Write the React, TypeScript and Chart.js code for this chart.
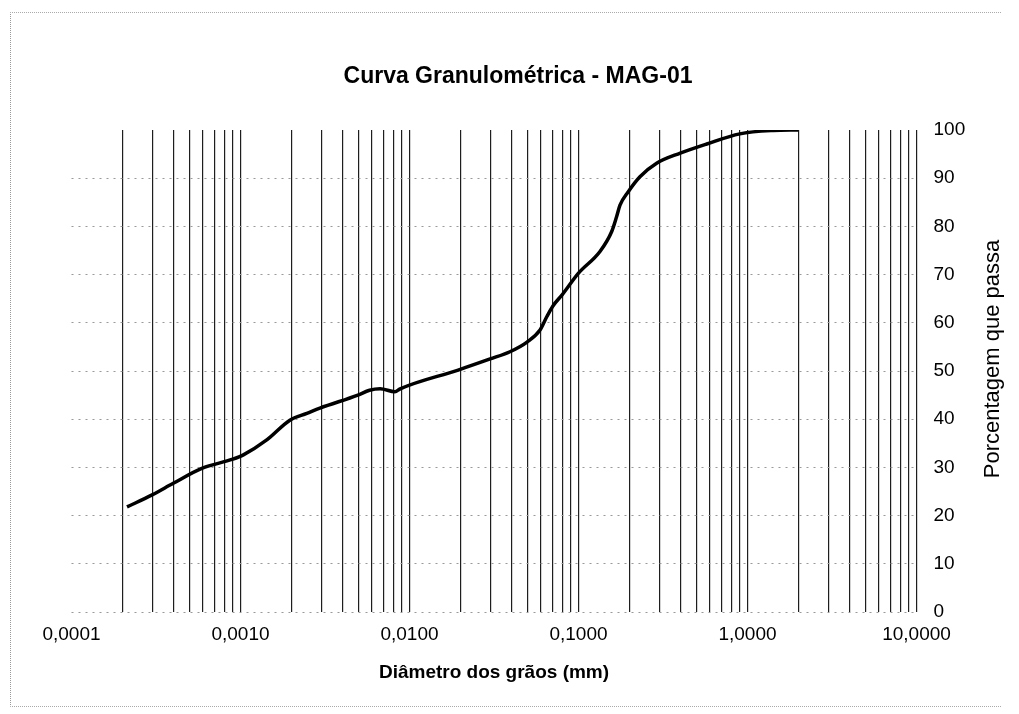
import { useEffect, useRef } from 'react';
import { Chart, registerables } from 'chart.js';

Chart.register(...registerables);

const chartTitle = 'Curva Granulométrica - MAG-01';
const xAxisTitle = 'Diâmetro dos grãos (mm)';
const yAxisTitle = 'Porcentagem que passa';

// Grain diameter (mm) and percentage passing
const grainDiameterMm = [
  0.000213, 0.0003, 0.0004, 0.00059, 0.0009, 0.00104, 0.00143, 0.00196, 0.00247, 0.00295,
  0.00495, 0.0058, 0.0067, 0.0082, 0.0088, 0.0194, 0.03, 0.0393, 0.0496, 0.0592,
  0.065, 0.0706, 0.08, 0.1, 0.134, 0.157, 0.168, 0.176, 0.197, 0.231,
  0.29, 0.4, 0.574, 0.9, 1.42, 2.0,
];
const percentPassing = [
  21.8, 24.3, 26.7, 29.8, 31.7, 32.6, 35.7, 39.8, 41.2, 42.3,
  45.0, 46.0, 46.3, 45.7, 46.3, 50.2, 52.5, 54.0, 56.0, 58.5,
  61.3, 63.5, 65.8, 70.3, 74.8, 78.9, 82.0, 84.4, 87.2, 90.3,
  93.1, 95.2, 97.1, 99.2, 99.9, 100,
];

const xDecadeValues = [0.0001, 0.001, 0.01, 0.1, 1, 10];
const xDecadeLabels = ['0,0001', '0,0010', '0,0100', '0,1000', '1,0000', '10,0000'];
const minorMultipliers = [2, 3, 4, 5, 6, 7, 8, 9];
const yMin = 0;
const yMax = 100;
const yStep = 10;

const FONT = "'Liberation Sans', Arial, Helvetica, sans-serif";

export default function App() {
  const ref = useRef<HTMLCanvasElement>(null);

  useEffect(() => {
    const canvas = ref.current;
    if (!canvas) return;

    const gridValues: number[] = [];
    xDecadeValues.forEach((d, i) => {
      gridValues.push(d);
      if (i < xDecadeValues.length - 1) {
        minorMultipliers.forEach((m) => gridValues.push(parseFloat((d * m).toPrecision(6))));
      }
    });
    const decadeIndex = (v: number) =>
      xDecadeValues.findIndex((d) => Math.abs(v - d) / d < 1e-6);

    const textPlugin = {
      id: 'textPlugin',
      afterDraw(chart: any) {
        const ctx = chart.ctx as CanvasRenderingContext2D;
        const area = chart.chartArea;
        ctx.save();
        ctx.fillStyle = '#000';
        ctx.textAlign = 'center';
        ctx.textBaseline = 'middle';
        ctx.font = `bold 23px ${FONT}`;
        ctx.fillText(chartTitle, 518, 77);
        ctx.translate(993, (area.top + area.bottom) / 2 - 12);
        ctx.rotate(-Math.PI / 2);
        ctx.font = `22px ${FONT}`;
        ctx.fillText(yAxisTitle, 0, 0);
        ctx.restore();
      },
    };

    const chart = new Chart(canvas, {
      type: 'line',
      data: {
        datasets: [
          {
            label: 'MAG-01',
            data: grainDiameterMm.map((x, i) => ({ x, y: percentPassing[i] })),
            borderColor: '#000',
            borderWidth: 3.5,
            pointRadius: 0,
            fill: false,
            cubicInterpolationMode: 'monotone',
          },
        ],
      },
      options: {
        responsive: false,
        animation: false,
        events: [],
        layout: { padding: { left: 71.5, top: 130, right: 0, bottom: 0 } },
        plugins: {
          legend: { display: false },
          title: { display: false },
          tooltip: { enabled: false },
        },
        scales: {
          x: {
            type: 'logarithmic',
            min: xDecadeValues[0],
            max: xDecadeValues[xDecadeValues.length - 1],
            afterBuildTicks: (scale: any) => {
              scale.ticks = gridValues.map((v) => ({ value: v, major: false }));
            },
            afterFit: (scale: any) => {
              scale.height = 102;
            },
            ticks: {
              autoSkip: false,
              maxRotation: 0,
              minRotation: 0,
              padding: 11,
              color: '#000',
              font: { family: FONT, size: 19 },
              callback: (value: any) => {
                const i = decadeIndex(Number(value));
                return i >= 0 ? xDecadeLabels[i] : '';
              },
            },
            grid: {
              drawTicks: false,
              lineWidth: 1.2,
              color: (ctx: any) =>
                ctx.tick && Math.abs(ctx.tick.value - xDecadeValues[0]) < 1e-9 ? 'rgba(0,0,0,0)' : '#1e1e1e',
            },
            border: { display: false },
            title: {
              display: true,
              text: xAxisTitle,
              color: '#000',
              font: { family: FONT, size: 19, weight: 'bold' },
              padding: { top: 0, bottom: 30 },
            },
          },
          y: {
            type: 'linear',
            position: 'right',
            min: yMin,
            max: yMax,
            afterFit: (scale: any) => {
              scale.width = 102.5;
            },
            ticks: {
              stepSize: yStep,
              padding: 17,
              color: '#000',
              font: { family: FONT, size: 19 },
            },
            grid: {
              drawTicks: false,
              lineWidth: 1,
              color: (ctx: any) => (ctx.tick && ctx.tick.value === yMax ? 'rgba(0,0,0,0)' : '#999999'),
            },
            border: { display: false, dash: [2, 5] },
          },
        },
      },
      plugins: [textPlugin],
    } as any);

    return () => chart.destroy();
  }, []);

  return (
    <div style={{ position: 'absolute', left: 0, top: 0, width: 1019, height: 714, background: '#fff' }}>
      <div
        style={{
          position: 'absolute',
          left: 10,
          top: 12,
          width: 990,
          height: 693,
          borderLeft: '1px dotted #999',
          borderTop: '1px dotted #aaa',
          borderBottom: '1px dotted #aaa',
        }}
      />
      <canvas ref={ref} width={1019} height={714} style={{ position: 'absolute', left: 0, top: 0 }} />
    </div>
  );
}
